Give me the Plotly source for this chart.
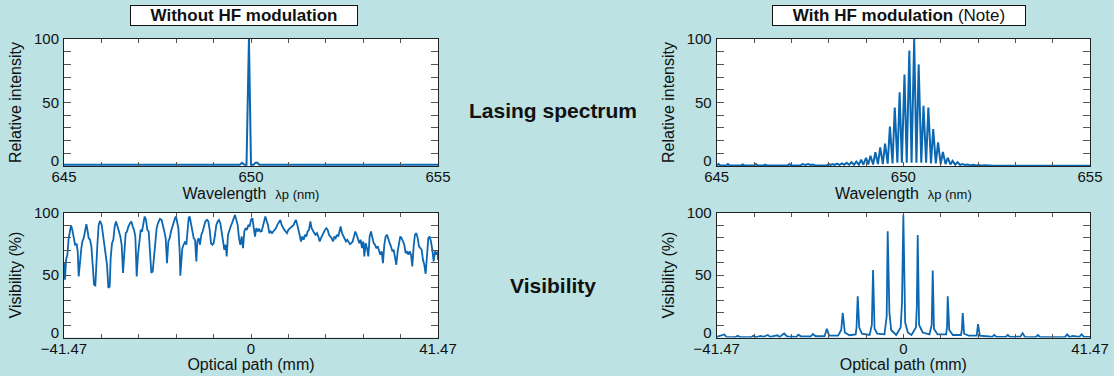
import plotly.graph_objects as go

# ---------------- data ----------------
# Top-left: lasing spectrum without HF modulation
tl_wavelength = [645.0, 649.60, 649.70, 649.76, 649.82, 649.88, 649.945, 650.00, 650.07,
                 650.12, 650.17, 650.22, 650.30, 655.0]
tl_intensity = [1.0, 1.0, 1.0, 2.5, 1.0, 1.0, 100.0, 1.0, 1.0,
                2.5, 2.5, 1.0, 1.0, 1.0]

# Top-right: lasing spectrum with HF modulation
tr_wavelength = [645.00, 645.05, 645.10, 645.25, 645.30, 645.35, 645.65, 645.70, 645.75, 646.00,
                 646.05, 646.10, 646.25, 646.30, 646.35, 646.90, 646.95, 647.00, 647.25, 647.30,
                 647.38, 647.45, 647.52, 647.58, 647.65, 647.95, 648.00, 648.05, 648.10, 648.16,
                 648.22, 648.29, 648.35, 648.42, 648.48, 648.55, 648.61, 648.68, 648.74, 648.81,
                 648.87, 648.93, 649.00, 649.06, 649.12, 649.19, 649.25, 649.32, 649.38, 649.45,
                 649.51, 649.58, 649.64, 649.71, 649.77, 649.84, 649.90, 649.96, 650.03, 650.09,
                 650.16, 650.22, 650.29, 650.35, 650.41, 650.48, 650.54, 650.61, 650.67, 650.74,
                 650.80, 650.87, 650.93, 651.00, 651.06, 651.13, 651.19, 651.26, 651.32, 651.39,
                 651.45, 651.52, 651.58, 651.65, 651.72, 651.80, 651.87, 651.95, 652.02, 652.10,
                 652.20, 652.40, 655.00]
tr_intensity = [0.5, 1.5, 0.4, 0.4, 1.5, 0.3, 0.3, 1.2, 0.3, 0.3,
                1.5, 0.3, 0.3, 1.0, 0.3, 0.3, 1.5, 0.3, 0.5, 1.5,
                0.8, 1.5, 0.8, 1.2, 0.3, 0.5, 1.5, 0.8, 1.5, 0.8,
                1.8, 0.8, 2.0, 1.0, 2.5, 1.0, 3.0, 1.0, 3.5, 1.0,
                5.0, 1.0, 6.5, 1.2, 8.0, 1.2, 10.8, 1.5, 14.7, 1.5,
                17.6, 1.8, 31.0, 2.0, 46.0, 2.5, 58.0, 2.5, 72.0, 2.5,
                91.0, 2.5, 100.0, 2.5, 80.0, 2.5, 47.5, 2.5, 46.0, 2.0,
                29.0, 2.0, 18.6, 1.5, 11.0, 1.5, 6.5, 1.2, 4.0, 1.0,
                3.0, 0.8, 1.5, 0.8, 1.2, 0.5, 1.0, 0.4, 0.8, 0.3,
                0.5, 0.2, 0.2]

# Bottom-left: visibility without HF modulation
bl_path = [-41.47, -41.24, -41.02, -40.72, -40.43, -40.13, -39.91, -39.62, -39.32, -39.02,
           -38.65, -38.43, -38.21, -37.92, -37.62, -37.40, -37.10, -36.81, -36.51, -36.22,
           -36.00, -35.70, -35.40, -35.11, -34.81, -34.52, -34.37, -34.07, -33.78, -33.48,
           -33.11, -32.82, -32.52, -32.23, -31.93, -31.63, -31.34, -31.12, -30.82, -30.53,
           -30.23, -29.93, -29.64, -29.34, -28.97, -28.68, -28.38, -28.09, -27.79, -27.49,
           -27.20, -26.83, -26.53, -26.24, -25.94, -25.65, -25.35, -25.06, -24.76, -24.46,
           -24.17, -23.87, -23.58, -23.28, -22.99, -22.69, -22.39, -22.10, -21.80, -21.51,
           -21.21, -20.92, -20.62, -20.18, -19.81, -19.51, -19.22, -18.92, -18.63, -18.33,
           -18.03, -17.74, -17.44, -17.15, -16.85, -16.63, -16.41, -16.11, -15.82, -15.67,
           -15.45, -15.23, -14.93, -14.63, -14.34, -14.12, -13.82, -13.60, -13.30, -13.01,
           -12.71, -12.42, -12.12, -11.90, -11.60, -11.31, -11.01, -10.72, -10.42, -10.13,
           -9.76, -9.46, -9.16, -8.87, -8.57, -8.28, -7.98, -7.69, -7.39, -7.10,
           -6.80, -6.50, -6.13, -5.91, -5.62, -5.39, -5.10, -4.80, -4.51, -4.21,
           -3.92, -3.55, -3.25, -2.96, -2.66, -2.37, -2.07, -1.77, -1.48, -1.18,
           -0.89, -0.59, -0.30, 0.00, 0.30, 0.59, 0.89, 1.18, 1.48, 1.77,
           2.07, 2.37, 2.66, 2.96, 3.18, 3.47, 3.77, 4.06, 4.36, 4.66,
           4.95, 5.25, 5.54, 5.84, 6.13, 6.50, 6.80, 7.10, 7.39, 7.69,
           7.98, 8.28, 8.57, 8.87, 9.16, 9.46, 9.76, 9.98, 10.27, 10.57,
           10.86, 11.09, 11.38, 11.68, 11.97, 12.27, 12.56, 12.86, 13.16, 13.45,
           13.75, 14.04, 14.34, 14.63, 14.93, 15.23, 15.52, 15.82, 16.11, 16.41,
           16.70, 17.00, 17.29, 17.59, 17.89, 18.18, 18.48, 18.77, 19.07, 19.36,
           19.66, 19.88, 20.18, 20.47, 20.77, 21.06, 21.36, 21.66, 21.95, 22.25,
           22.54, 22.84, 23.13, 23.43, 23.73, 24.02, 24.32, 24.61, 24.91, 25.13,
           25.43, 25.72, 26.02, 26.31, 26.61, 26.90, 27.20, 27.49, 27.79, 28.09,
           28.38, 28.68, 28.97, 29.27, 29.56, 29.86, 30.16, 30.45, 30.75, 31.04,
           31.34, 31.63, 31.93, 32.22, 32.52, 32.82, 33.11, 33.41, 33.70, 34.00,
           34.29, 34.59, 34.89, 35.18, 35.48, 35.77, 36.07, 36.36, 36.66, 36.96,
           37.25, 37.55, 37.84, 38.14, 38.43, 38.73, 39.02, 39.32, 39.62, 39.91,
           40.21, 40.50, 40.80, 41.09, 41.39, 41.47]
bl_visibility = [59.5, 46.2, 62.2, 66.2, 79.5, 87.5, 89.6, 86.1, 80.8, 74.2,
                 74.7, 68.9, 48.9, 63.5, 71.5, 76.8, 79.5, 84.8, 90.7, 84.8,
                 79.5, 78.2, 72.9, 58.2, 42.3, 41.7, 58.2, 74.2, 90.1, 93.3,
                 90.1, 82.2, 76.8, 66.2, 58.2, 39.6, 40.9, 63.5, 75.5, 78.2,
                 88.8, 92.8, 88.8, 84.8, 80.8, 74.2, 51.6, 67.5, 83.5, 84.8,
                 88.8, 91.5, 92.8, 88.8, 86.1, 80.8, 48.9, 66.2, 79.5, 86.1,
                 84.8, 91.5, 96.8, 94.1, 86.1, 84.8, 66.2, 51.6, 52.9, 66.2,
                 74.2, 87.5, 91.5, 94.9, 94.0, 87.5, 84.8, 79.5, 59.5, 76.8,
                 79.5, 84.8, 88.8, 91.5, 95.5, 96.8, 91.5, 87.5, 68.9, 49.4,
                 60.9, 71.5, 74.2, 76.8, 74.2, 84.8, 95.5, 96.8, 91.5, 83.5,
                 79.5, 78.2, 60.9, 76.8, 79.5, 74.2, 82.2, 84.8, 88.8, 92.8,
                 94.1, 92.8, 86.1, 75.5, 74.2, 75.5, 82.2, 90.1, 92.8, 94.1,
                 91.5, 84.8, 75.5, 70.2, 74.2, 64.9, 82.2, 84.8, 88.8, 91.5,
                 94.1, 98.1, 94.1, 90.1, 79.5, 74.2, 80.8, 71.5, 84.8, 87.5,
                 86.1, 90.1, 88.8, 94.1, 95.5, 87.5, 80.8, 87.5, 84.8, 87.0,
                 84.8, 85.0, 90.1, 92.8, 96.8, 93.3, 90.1, 83.5, 84.8, 83.5,
                 84.8, 86.1, 87.5, 90.1, 91.5, 94.1, 90.1, 87.5, 86.1, 84.8,
                 83.5, 86.1, 87.0, 88.0, 88.8, 90.1, 92.8, 94.1, 90.1, 86.1,
                 80.8, 76.8, 80.8, 78.2, 82.2, 80.8, 84.8, 86.1, 92.8, 87.5,
                 84.8, 83.5, 82.2, 83.5, 80.8, 76.8, 79.5, 82.2, 83.5, 86.1,
                 87.5, 86.1, 82.2, 80.8, 79.5, 76.8, 80.8, 79.5, 82.2, 80.8,
                 84.8, 88.8, 83.5, 80.8, 79.5, 76.8, 78.2, 76.8, 74.7, 75.5,
                 76.8, 80.8, 84.8, 82.2, 79.5, 75.5, 78.2, 71.5, 76.8, 64.9,
                 75.5, 71.5, 64.9, 80.8, 84.8, 79.5, 75.5, 74.2, 71.5, 72.9,
                 68.9, 66.2, 68.9, 59.5, 74.2, 80.8, 82.2, 78.2, 75.5, 72.9,
                 68.9, 70.2, 64.9, 58.2, 68.9, 76.8, 80.8, 79.5, 76.8, 74.2,
                 67.5, 68.9, 66.2, 68.9, 66.2, 56.9, 72.9, 82.2, 83.5, 79.5,
                 72.9, 71.5, 70.2, 62.2, 58.2, 51.0, 68.9, 79.5, 80.8, 76.8,
                 70.2, 60.9, 68.9, 66.2, 68.9, 62.0]

# Bottom-right: visibility with HF modulation
br_path = [-41.47, -39.8, -39.3, -37.3, -36.8, -36.3, -33.8, -33.3, -32.8, -31.6,
           -31.1, -30.1, -29.6, -28.5, -28.0, -27.5, -26.5, -25.8, -23.8, -23.3,
           -22.7, -20.6, -20.1, -19.5, -17.5, -17.0, -16.5, -14.5, -13.8, -13.47,
           -13.0, -12.0, -10.6, -10.4, -10.14, -9.8, -9.2, -7.5, -7.0, -6.73,
           -6.4, -5.8, -4.2, -3.7, -3.48, -3.1, -2.7, -1.6, -0.6, -0.3,
           0.0, 0.4, 1.0, 1.8, 2.8, 3.0, 3.19, 3.5, 4.3, 5.8,
           6.3, 6.53, 6.8, 7.6, 9.5, 9.7, 9.86, 10.2, 11.0, 12.8,
           13.0, 13.19, 13.5, 14.5, 16.3, 16.6, 17.0, 19.0, 19.7, 20.2,
           20.7, 22.7, 23.2, 23.7, 26.0, 26.5, 27.0, 29.4, 29.9, 30.4,
           35.9, 36.4, 36.9, 37.7, 39.1, 39.6, 40.1, 41.47]
br_visibility = [0.5, 2.4, 0.5, 0.3, 1.3, 0.3, 0.3, 1.5, 0.3, 1.3,
                 0.5, 2.0, 0.5, 1.8, 1.8, 0.5, 3.2, 0.8, 0.5, 2.2,
                 0.8, 0.8, 2.8, 1.0, 1.0, 7.0, 1.5, 1.5, 6.0, 19.7,
                 4.0, 1.8, 2.5, 8.0, 33.0, 8.0, 3.0, 2.0, 10.0, 54.0,
                 7.0, 3.0, 2.5, 17.0, 85.0, 20.0, 6.0, 2.0, 8.0, 28.0,
                 98.0, 12.0, 4.0, 2.0, 8.0, 25.0, 82.0, 10.0, 4.0, 2.5,
                 10.0, 53.6, 7.0, 2.5, 2.5, 8.0, 33.0, 6.0, 2.0, 2.0,
                 6.0, 19.5, 3.0, 1.5, 1.5, 10.7, 1.5, 0.8, 0.5, 2.0,
                 0.5, 0.5, 2.0, 0.5, 0.7, 3.5, 0.5, 0.3, 2.0, 0.3,
                 0.3, 2.5, 0.5, 1.2, 0.5, 2.5, 0.5, 0.5]

# Tick labels
y_tickvals = [0, 10, 20, 30, 40, 50, 60, 70, 80, 90, 100]
y_ticktext = ["", "", "", "", "", "50", "", "", "", "", "100"]
y_zero_val = [0]
y_zero_text = ["0"]
wl_tickvals = [645, 646, 647, 648, 649, 650, 651, 652, 653, 654, 655]
wl_ticktext = ["645", "", "", "", "", "650", "", "", "", "", "655"]
op_tickvals = [-41.47, -33.18, -24.88, -16.59, -8.29, 0, 8.29, 16.59, 24.88, 33.18, 41.47]
op_ticktext = ["\u221241.47", "", "", "", "", "0", "", "", "", "", "41.47"]

# ---------------- figure ----------------
FONT = "Liberation Sans, Arial, Helvetica, sans-serif"
LINE = "#0b67b2"
BG = "#bce2e4"

fig = go.Figure()
fig.add_trace(go.Scatter(x=tl_wavelength, y=tl_intensity, mode="lines",
                         line=dict(color=LINE, width=2), xaxis="x", yaxis="y"))
fig.add_trace(go.Scatter(x=tr_wavelength, y=tr_intensity, mode="lines",
                         line=dict(color=LINE, width=2), xaxis="x2", yaxis="y2"))
fig.add_trace(go.Scatter(x=bl_path, y=bl_visibility, mode="lines",
                         line=dict(color=LINE, width=1.8), xaxis="x3", yaxis="y3"))
fig.add_trace(go.Scatter(x=br_path, y=br_visibility, mode="lines",
                         line=dict(color=LINE, width=1.8), xaxis="x4", yaxis="y4"))
# empty helper traces so the "0" label axes exist
for xa, ya in [("x", "y5"), ("x2", "y6"), ("x3", "y7"), ("x4", "y8")]:
    fig.add_trace(go.Scatter(x=[], y=[], mode="lines", xaxis=xa, yaxis=ya,
                             hoverinfo="skip", showlegend=False))

W, H = 1114, 376
left_dom = [64 / W, 438 / W]
right_dom = [716.7 / W, 1090 / W]
top_dom = [1 - 166 / H, 1 - 39 / H]
bot_dom = [1 - 337.5 / H, 1 - 212.5 / H]

common = dict(showline=True, linecolor="#222222", linewidth=1, mirror="ticks",
              ticks="inside", tickcolor="#555555", tickwidth=1, showgrid=False,
              zeroline=False, automargin=False,
              tickfont=dict(size=15, color="#111111", family=FONT))

wl_title = dict(text="Wavelength\u00a0\u00a0<span style='font-size:13px'>\u03bbp (nm)</span>",
                font=dict(size=16, color="#111111", family=FONT), standoff=0)
op_title = dict(text="Optical path (mm)", font=dict(size=16, color="#111111", family=FONT), standoff=0)

def xax(domain, anchor, rng, tv, tt, title):
    d = dict(common)
    d.update(domain=domain, anchor=anchor, range=rng, tickmode="array", tickvals=tv,
             ticktext=tt, ticklen=4, ticklabelstandoff=-3, title=title)
    return d

def yax(domain, anchor, title):
    d = dict(common)
    d.update(domain=domain, anchor=anchor, range=[0, 100], tickmode="array",
             tickvals=y_tickvals, ticktext=y_ticktext, ticklen=7,
             ticklabelstandoff=1,
             title=dict(text=title, font=dict(size=16, color="#111111", family=FONT), standoff=8))
    return d

def yzero(domain, anchor, over):
    # label-only axis carrying the "0" label, nudged up as in the original figure
    return dict(domain=domain, anchor=anchor, overlaying=over, range=[0, 100],
                tickmode="array", tickvals=y_zero_val, ticktext=y_zero_text,
                ticks="", showline=False, showgrid=False, zeroline=False,
                automargin=False, ticklabelshift=-5, ticklabelstandoff=4,
                tickfont=dict(size=15, color="#111111", family=FONT))

fig.update_layout(
    width=W, height=H, margin=dict(l=0, r=0, t=0, b=0, autoexpand=False),
    paper_bgcolor=BG, plot_bgcolor="white", showlegend=False,
    font=dict(family=FONT, color="#111111"),
    xaxis=xax(left_dom, "y", [645, 655], wl_tickvals, wl_ticktext, wl_title),
    yaxis=yax(top_dom, "x", "Relative intensity"),
    xaxis2=xax(right_dom, "y2", [645, 655], wl_tickvals, wl_ticktext, wl_title),
    yaxis2=yax(top_dom, "x2", "Relative intensity"),
    xaxis3=xax(left_dom, "y3", [-41.47, 41.47], op_tickvals, op_ticktext, op_title),
    yaxis3=yax(bot_dom, "x3", "Visibility (%)"),
    xaxis4=xax(right_dom, "y4", [-41.47, 41.47], op_tickvals, op_ticktext, op_title),
    yaxis4=yax(bot_dom, "x4", "Visibility (%)"),
    yaxis5=yzero(top_dom, "x", "y"),
    yaxis6=yzero(top_dom, "x2", "y2"),
    yaxis7=yzero(bot_dom, "x3", "y3"),
    yaxis8=yzero(bot_dom, "x4", "y4"),
)

ann = [
    dict(text="<b>Without HF modulation</b>", x=244 / W, y=1 - 15.5 / H, width=224, height=17),
    dict(text="<b>With HF modulation</b> (Note)", x=898.7 / W, y=1 - 15.5 / H, width=250, height=17),
]
for a in ann:
    fig.add_annotation(xref="paper", yref="paper", xanchor="center", yanchor="middle",
                       showarrow=False, bgcolor="white", bordercolor="#111111", borderwidth=1,
                       borderpad=1, font=dict(size=17, color="#111111", family=FONT), **a)

for txt, yy in [("<b>Lasing spectrum</b>", 110), ("<b>Visibility</b>", 285)]:
    fig.add_annotation(xref="paper", yref="paper", x=553 / W, y=1 - yy / H, xanchor="center",
                       yanchor="middle", showarrow=False, text=txt,
                       font=dict(size=21, color="#111111", family=FONT))

fig.write_html("out.html", config={"displayModeBar": False},
               post_script="document.body.style.margin='0';")
